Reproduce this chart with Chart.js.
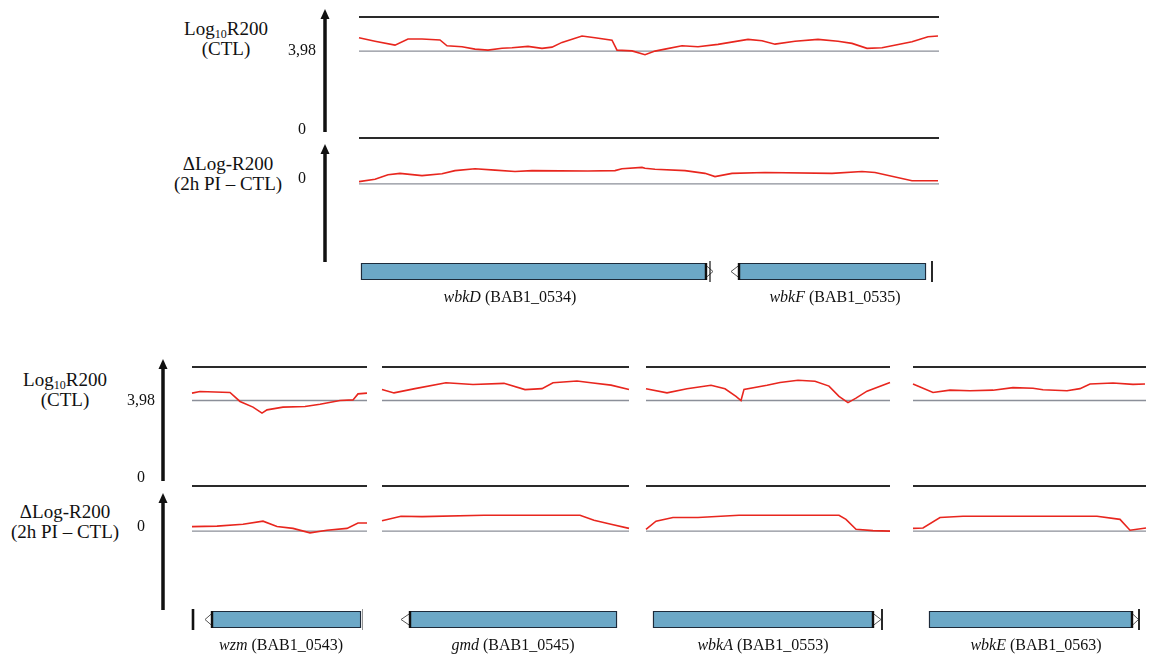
<!DOCTYPE html>
<html>
<head>
<meta charset="utf-8">
<script src="https://cdn.jsdelivr.net/npm/chart.js@4.4.1/dist/chart.umd.min.js"></script>
<style>
  body { margin: 0; width: 1151px; height: 659px; position: relative; overflow: hidden; background: #fff;
         font-family: "Liberation Serif", "Times New Roman", serif; color: #111; }
  canvas { position: absolute; }
  .lab { position: absolute; width: 160px; text-align: center; font-size: 19px; line-height: 20px; white-space: nowrap; }
  .lab sub { font-size: 12px; vertical-align: -3px; line-height: 0; }
  .gene { position: absolute; font-size: 16px; line-height: 18px; white-space: nowrap; transform: translateX(-50%); }
</style>
</head>
<body>
<div class="lab" style="left:146px;top:19px">Log<sub>10</sub>R200<br>(CTL)</div>
<div class="lab" style="left:148px;top:154px">&Delta;Log-R200<br>(2h PI &ndash; CTL)</div>
<div class="lab" style="left:-15px;top:370px">Log<sub>10</sub>R200<br>(CTL)</div>
<div class="lab" style="left:-15px;top:502px">&Delta;Log-R200<br>(2h PI &ndash; CTL)</div>

<script>
// axis values
const CTL_MAX = 5.7;
const CTL_REF = 3.98;
const DELTA_MAX = 1;
const DELTA_REF = 0;
const ctlTickValues = [0, 3.98];
const ctlTickLabels = ['0', '3,98'];
const deltaTickValues = [0];
const deltaTickLabels = ['0'];

// top region wbkD - wbkF, positions in bp
const topLen = 2320;
const topCtlX = [0, 64, 144, 196, 252, 324, 352, 412, 464, 516, 572, 612, 676, 732, 772, 812, 892, 944, 1012, 1032, 1092, 1144, 1184, 1224, 1292, 1356, 1436, 1556, 1612, 1664, 1744, 1836, 1916, 1972, 2032, 2092, 2132, 2212, 2276, 2316];
const topCtlY = [4.65, 4.48, 4.28, 4.59, 4.59, 4.54, 4.25, 4.20, 4.08, 4.03, 4.12, 4.15, 4.22, 4.12, 4.18, 4.42, 4.74, 4.65, 4.53, 4.03, 3.99, 3.80, 3.98, 4.08, 4.25, 4.20, 4.32, 4.57, 4.50, 4.33, 4.48, 4.57, 4.48, 4.37, 4.12, 4.15, 4.25, 4.45, 4.70, 4.74];
const topDeltaX = [0, 64, 116, 164, 252, 332, 384, 464, 544, 624, 692, 916, 1024, 1052, 1132, 1144, 1184, 1304, 1384, 1424, 1492, 1624, 1892, 2012, 2064, 2212, 2316];
const topDeltaY = [0.05, 0.10, 0.20, 0.23, 0.18, 0.22, 0.29, 0.33, 0.30, 0.27, 0.29, 0.28, 0.29, 0.33, 0.36, 0.34, 0.32, 0.29, 0.23, 0.16, 0.23, 0.25, 0.23, 0.27, 0.25, 0.07, 0.07];

// bottom region, four windows
const t1Len = 700;
const t1CtlX = [0, 32, 152, 192, 244, 280, 300, 364, 452, 512, 592, 644, 664, 700];
const t1CtlY = [4.36, 4.44, 4.39, 3.93, 3.64, 3.33, 3.50, 3.64, 3.67, 3.79, 3.98, 4.01, 4.32, 4.36];
const t1DeltaX = [0, 100, 204, 284, 340, 404, 472, 540, 620, 664, 700];
const t1DeltaY = [0.10, 0.11, 0.15, 0.22, 0.10, 0.06, -0.04, 0.02, 0.06, 0.18, 0.18];

const t2Len = 988;
const t2CtlX = [0, 48, 132, 256, 364, 488, 572, 640, 684, 780, 836, 916, 988];
const t2CtlY = [4.54, 4.37, 4.59, 4.89, 4.80, 4.86, 4.54, 4.59, 4.89, 4.98, 4.89, 4.77, 4.54];
const t2DeltaX = [0, 76, 160, 408, 792, 848, 916, 988];
const t2DeltaY = [0.23, 0.33, 0.32, 0.35, 0.35, 0.24, 0.15, 0.06];

const t3Len = 976;
const t3CtlX = [0, 84, 164, 260, 316, 360, 380, 392, 484, 536, 608, 676, 732, 772, 808, 840, 884, 976];
const t3CtlY = [4.58, 4.37, 4.58, 4.76, 4.58, 4.19, 3.98, 4.55, 4.76, 4.90, 5.02, 4.97, 4.72, 4.19, 3.87, 4.10, 4.46, 4.90];
const t3DeltaX = [0, 40, 108, 208, 372, 772, 800, 840, 908, 976];
const t3DeltaY = [0.04, 0.22, 0.30, 0.30, 0.35, 0.35, 0.26, 0.04, 0.01, 0.00];

const t4Len = 932;
const t4CtlX = [0, 80, 148, 228, 320, 400, 480, 520, 616, 668, 708, 800, 880, 928];
const t4CtlY = [4.83, 4.39, 4.51, 4.48, 4.51, 4.64, 4.61, 4.53, 4.48, 4.59, 4.83, 4.88, 4.81, 4.83];
const t4DeltaX = [0, 40, 108, 200, 468, 736, 828, 868, 932];
const t4DeltaY = [0.06, 0.07, 0.30, 0.33, 0.33, 0.33, 0.26, 0.02, 0.07];

// genes (bp, same frame as the window above them)
const topGeneNames = ['wbkD', 'wbkF'];
const topGeneIds = ['BAB1_0534', 'BAB1_0535'];
const topGeneBodies = [[8, 1388], [1520, 2268]];
const topGeneStrands = [1, -1];
const topGeneTips = [28, 32];
const topGeneTicks = [1404, 2292];
const topGeneTickW = [1.2, 1.8];

const t1GeneNames = ['wzm'];  const t1GeneIds = ['BAB1_0543'];
const t1GeneBodies = [[80, 676]]; const t1GeneStrands = [-1]; const t1GeneTips = [28];
const t1GeneTicks = [4, 682]; const t1GeneTickW = [2.6, 0.8];
const t2GeneNames = ['gmd'];  const t2GeneIds = ['BAB1_0545'];
const t2GeneBodies = [[112, 940]]; const t2GeneStrands = [-1]; const t2GeneTips = [36];
const t2GeneTicks = []; const t2GeneTickW = [];
const t3GeneNames = ['wbkA']; const t3GeneIds = ['BAB1_0553'];
const t3GeneBodies = [[28, 908]]; const t3GeneStrands = [1]; const t3GeneTips = [32];
const t3GeneTicks = [944]; const t3GeneTickW = [1.8];
const t4GeneNames = ['wbkE']; const t4GeneIds = ['BAB1_0563'];
const t4GeneBodies = [[64, 876]]; const t4GeneStrands = [1]; const t4GeneTips = [26];
const t4GeneTicks = [904]; const t4GeneTickW = [1.8];

// styles
const RED = '#e8261e';
const BLACK_LINE = '#2a2a2a';
const GRAY_LINE = '#8b8f99';
const GENE_FILL = '#6ca8c7';
const GENE_EDGE = '#1d2b3b';

function makeCanvas(left, top, width, height) {
  const c = document.createElement('canvas');
  c.width = width; c.height = height;
  c.style.left = left + 'px'; c.style.top = top + 'px';
  c.style.width = width + 'px'; c.style.height = height + 'px';
  document.body.appendChild(c);
  return c;
}

// vertical arrow axis with its tick labels, drawn from the y scale
function axisPlugin(ax) {
  return {
    id: 'axisArrow',
    afterDraw(chart) {
      const { ctx, chartArea } = chart;
      const ys = chart.scales.y;
      const x = chartArea.left - ax.arrowGap;
      const tip = chartArea.top + ax.tipShift;
      const bottom = chartArea.bottom + ax.bottomShift;
      ctx.save();
      ctx.strokeStyle = '#111';
      ctx.fillStyle = '#111';
      ctx.lineWidth = 3.5;
      ctx.beginPath();
      ctx.moveTo(x, bottom);
      ctx.lineTo(x, tip + 8);
      ctx.stroke();
      ctx.beginPath();
      ctx.moveTo(x - 4.5, tip + 10);
      ctx.lineTo(x, tip);
      ctx.lineTo(x + 4.5, tip + 10);
      ctx.closePath();
      ctx.fill();
      ctx.fillStyle = '#111';
      ctx.font = '16px "Liberation Serif", serif';
      ctx.textAlign = 'center';
      ctx.textBaseline = 'middle';
      ax.values.forEach((v, i) => {
        ctx.fillText(ax.labels[i], chartArea.left - ax.labelGap, ys.getPixelForValue(v) + ax.labelOffset);
      });
      ctx.restore();
    }
  };
}

function lineChart(box, xMax, xs, ys, yMin, yMax, topVal, refVal, pad, axis) {
  const canvas = makeCanvas(box.x0 - pad.l, box.y0 - pad.t,
    box.x1 - box.x0 + pad.l + pad.r, box.y1 - box.y0 + pad.t + pad.b);
  const flat = (v, color, w) => ({
    data: [{ x: 0, y: v }, { x: xMax, y: v }],
    borderColor: color, borderWidth: w, pointRadius: 0, clip: 8
  });
  new Chart(canvas, {
    type: 'line',
    data: {
      datasets: [
        { data: xs.map((x, i) => ({ x, y: ys[i] })), borderColor: RED, borderWidth: 1.6,
          pointRadius: 0, tension: 0, clip: 8 },
        flat(topVal, BLACK_LINE, 2.2),
        flat(refVal, GRAY_LINE, 1.3)
      ]
    },
    options: {
      responsive: false, animation: false, events: [],
      layout: { padding: { left: pad.l, top: pad.t, right: pad.r, bottom: pad.b } },
      plugins: { legend: { display: false }, tooltip: { enabled: false } },
      scales: {
        x: { type: 'linear', min: 0, max: xMax, display: false },
        y: { type: 'linear', min: yMin, max: yMax, display: false }
      }
    },
    plugins: axis ? [axisPlugin(axis)] : []
  });
}

// arrow tips and boundary ticks of the genes
function geneMarks(g) {
  return {
    id: 'geneMarks',
    afterDatasetsDraw(chart) {
      const { ctx, chartArea } = chart;
      const xs = chart.scales.x;
      ctx.save();
      g.bodies.forEach((b, i) => {
        const el = chart.getDatasetMeta(i).data[0];
        const yc = el.y, h = el.height;
        const edge = xs.getPixelForValue(g.strands[i] > 0 ? b[1] : b[0]);
        const tip = xs.getPixelForValue(g.strands[i] > 0 ? b[1] + g.tips[i] : b[0] - g.tips[i]);
        ctx.beginPath();
        ctx.moveTo(edge, yc - h * 0.36);
        ctx.lineTo(tip, yc);
        ctx.lineTo(edge, yc + h * 0.36);
        ctx.closePath();
        ctx.fillStyle = '#fff';
        ctx.fill();
        ctx.strokeStyle = '#555';
        ctx.lineWidth = 1;
        ctx.stroke();
        ctx.strokeStyle = '#111';
        ctx.lineWidth = 2.4;
        ctx.beginPath();
        ctx.moveTo(edge, yc - h / 2);
        ctx.lineTo(edge, yc + h / 2);
        ctx.stroke();
      });
      g.ticks.forEach((t, i) => {
        const x = xs.getPixelForValue(t);
        ctx.strokeStyle = g.tickW[i] < 1 ? '#777' : '#111';
        ctx.lineWidth = g.tickW[i];
        ctx.beginPath();
        ctx.moveTo(x, chartArea.top - 2);
        ctx.lineTo(x, chartArea.bottom + 2);
        ctx.stroke();
      });
      ctx.restore();
    }
  };
}

function geneChart(box, xMax, g, pad) {
  const canvas = makeCanvas(box.x0 - pad.l, box.y0 - pad.t,
    box.x1 - box.x0 + pad.l + pad.r, box.y1 - box.y0 + pad.t + pad.b);
  new Chart(canvas, {
    type: 'bar',
    data: {
      labels: [''],
      datasets: g.bodies.map(b => ({
        data: [b], backgroundColor: GENE_FILL, borderColor: GENE_EDGE, borderWidth: 1.4,
        borderSkipped: false, grouped: false, barPercentage: 1, categoryPercentage: 1
      }))
    },
    options: {
      indexAxis: 'y', responsive: false, animation: false, events: [],
      layout: { padding: { left: pad.l, top: pad.t, right: pad.r, bottom: pad.b } },
      plugins: { legend: { display: false }, tooltip: { enabled: false } },
      scales: {
        x: { type: 'linear', min: 0, max: xMax, display: false },
        y: { display: false }
      }
    },
    plugins: [geneMarks(g)]
  });
  g.names.forEach((n, i) => {
    const d = document.createElement('div');
    d.className = 'gene';
    d.style.left = g.labelX[i] + 'px';
    d.style.top = g.labelTop + 'px';
    d.innerHTML = '<i>' + n + '</i> (' + g.ids[i] + ')';
    document.body.appendChild(d);
  });
}

// layout of the two rows
const PAD = { l: 5, t: 5, r: 5, b: 5 };
const topRow = { x0: 359, x1: 939, ctl: [17, 130], delta: [138, 262], gene: [263, 280] };
const botRow = { ctl: [367, 478], delta: [486, 610], gene: [611, 628] };
const botX = [[192, 367], [382, 629], [646, 890], [913, 1146]];

const ctlAxisTop = { values: ctlTickValues, labels: ctlTickLabels, arrowGap: 34, labelGap: 57, labelOffset: 0, tipShift: -8, bottomShift: 2 };
const deltaAxisTop = { values: deltaTickValues, labels: deltaTickLabels, arrowGap: 34, labelGap: 57, labelOffset: -5, tipShift: 6, bottomShift: 0 };
const ctlAxisBot = { values: ctlTickValues, labels: ctlTickLabels, arrowGap: 29, labelGap: 51, labelOffset: 0, tipShift: -8, bottomShift: 3 };
const deltaAxisBot = { values: deltaTickValues, labels: deltaTickLabels, arrowGap: 29, labelGap: 51, labelOffset: -4, tipShift: 7, bottomShift: 0 };
const AXPAD = { l: 80, t: 12, r: 5, b: 12 };

lineChart({ x0: topRow.x0, x1: topRow.x1, y0: topRow.ctl[0], y1: topRow.ctl[1] }, topLen,
  topCtlX, topCtlY, 0, CTL_MAX, CTL_MAX, CTL_REF, AXPAD, ctlAxisTop);
lineChart({ x0: topRow.x0, x1: topRow.x1, y0: topRow.delta[0], y1: topRow.delta[1] }, topLen,
  topDeltaX, topDeltaY, -1.7, DELTA_MAX, DELTA_MAX, DELTA_REF, AXPAD, deltaAxisTop);
geneChart({ x0: topRow.x0, x1: topRow.x1, y0: topRow.gene[0], y1: topRow.gene[1] }, topLen, {
  names: topGeneNames, ids: topGeneIds, bodies: topGeneBodies, strands: topGeneStrands,
  tips: topGeneTips, ticks: topGeneTicks, tickW: topGeneTickW, labelX: [510, 835], labelTop: 288
}, PAD);

const botTracks = [
  { len: t1Len, cx: t1CtlX, cy: t1CtlY, dx: t1DeltaX, dy: t1DeltaY,
    g: { names: t1GeneNames, ids: t1GeneIds, bodies: t1GeneBodies, strands: t1GeneStrands, tips: t1GeneTips, ticks: t1GeneTicks, tickW: t1GeneTickW, labelX: [281] } },
  { len: t2Len, cx: t2CtlX, cy: t2CtlY, dx: t2DeltaX, dy: t2DeltaY,
    g: { names: t2GeneNames, ids: t2GeneIds, bodies: t2GeneBodies, strands: t2GeneStrands, tips: t2GeneTips, ticks: t2GeneTicks, tickW: t2GeneTickW, labelX: [513] } },
  { len: t3Len, cx: t3CtlX, cy: t3CtlY, dx: t3DeltaX, dy: t3DeltaY,
    g: { names: t3GeneNames, ids: t3GeneIds, bodies: t3GeneBodies, strands: t3GeneStrands, tips: t3GeneTips, ticks: t3GeneTicks, tickW: t3GeneTickW, labelX: [763] } },
  { len: t4Len, cx: t4CtlX, cy: t4CtlY, dx: t4DeltaX, dy: t4DeltaY,
    g: { names: t4GeneNames, ids: t4GeneIds, bodies: t4GeneBodies, strands: t4GeneStrands, tips: t4GeneTips, ticks: t4GeneTicks, tickW: t4GeneTickW, labelX: [1036] } }
];

botTracks.forEach((t, i) => {
  const [x0, x1] = botX[i];
  const first = i === 0;
  lineChart({ x0, x1, y0: botRow.ctl[0], y1: botRow.ctl[1] }, t.len, t.cx, t.cy, 0, CTL_MAX,
    CTL_MAX, CTL_REF, first ? AXPAD : PAD, first ? ctlAxisBot : null);
  lineChart({ x0, x1, y0: botRow.delta[0], y1: botRow.delta[1] }, t.len, t.dx, t.dy, -1.75, DELTA_MAX,
    DELTA_MAX, DELTA_REF, first ? AXPAD : PAD, first ? deltaAxisBot : null);
  t.g.labelTop = 636;
  geneChart({ x0, x1, y0: botRow.gene[0], y1: botRow.gene[1] }, t.len, t.g, PAD);
});
</script>
</body>
</html>
